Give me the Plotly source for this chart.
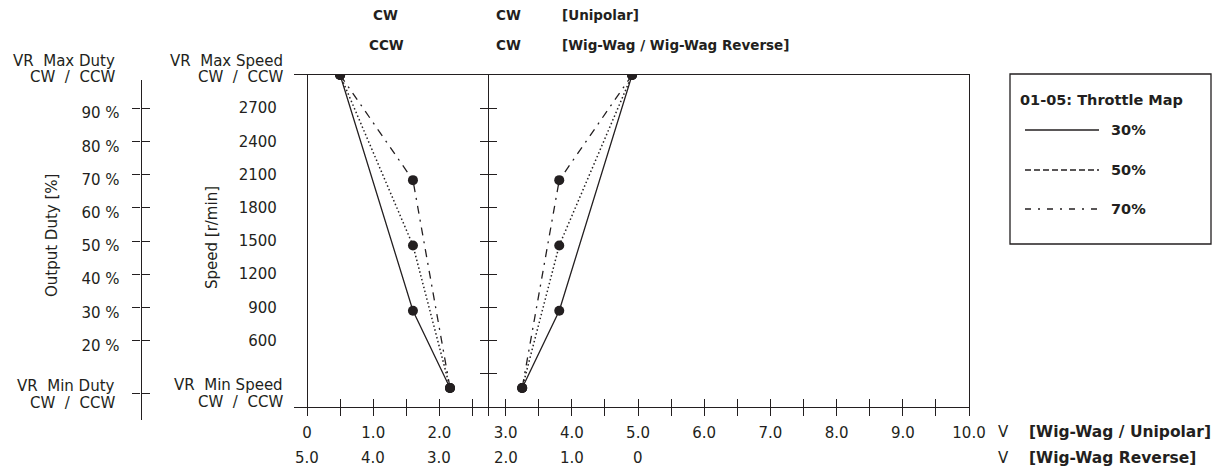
import plotly.graph_objects as go

# ---------------- data ----------------
throttle_labels = ["30%", "50%", "70%"]
volts_left = [0.5, 1.6, 2.16]      # CW (Unipolar) / CCW (Wig-Wag)
volts_right = [4.91, 3.81, 3.25]   # CW (Unipolar) / CW (Wig-Wag)
speed_30 = [3000, 870, 172]
speed_50 = [3000, 1460, 172]
speed_70 = [3000, 2050, 172]

speed_tick_vals = [600, 900, 1200, 1500, 1800, 2100, 2400, 2700]
speed_tick_text = ["600", "900", "1200", "1500", "1800", "2100", "2400", "2700"]
speed_minor_vals = [300, 600, 900, 1200, 1500, 1800, 2100, 2400, 2700]
duty_tick_vals = [20, 30, 40, 50, 60, 70, 80, 90]
duty_tick_text = ["20 %", "30 %", "40 %", "50 %", "60 %", "70 %", "80 %", "90 %"]
duty_min_val = 4
volt_major = [0, 1, 2, 3, 4, 5, 6, 7, 8, 9, 10]
volt_major_text = ["0", "1.0", "2.0", "3.0", "4.0", "5.0", "6.0", "7.0", "8.0", "9.0", "10.0"]
volt_half = [0.5, 1.5, 2.5, 3.5, 4.5, 5.5, 6.5, 7.5, 8.5, 9.5]
volt_rev_pos = [0, 1, 2, 3, 4, 5]
volt_rev_text = ["5.0", "4.0", "3.0", "2.0", "1.0", "0"]
mid_axis_volt = 2.74

# ---------------- geometry helpers ----------------
# the page body has an 8px margin, so the figure is drawn 8px smaller and
# all reference-pixel positions below are converted accordingly
PAGE_OFF = 8
FW, FH = 1224 - PAGE_OFF, 471 - PAGE_OFF
L, R, T, B = 20 - PAGE_OFF, 255, 60 - PAGE_OFF, 41
W, H = FW - L - R, FH - T - B


def fx(px):
    return (px - PAGE_OFF - L) / W


def fy(py):
    return (T + H - (py - PAGE_OFF)) / H


X_RANGE = [-0.2, 10.0]
X_LEFT_PX, X_RIGHT_PX = 293.8, 969.0


def v2px(v):
    return X_LEFT_PX + (v - X_RANGE[0]) * (X_RIGHT_PX - X_LEFT_PX) / (X_RANGE[1] - X_RANGE[0])


Y_TOP_PX, Y_BOT_PX = 75.0, 407.0
px_per_pct = (Y_BOT_PX - Y_TOP_PX) / 100.0
DUTY_TOP_PX, DUTY_BOT_PX = 80.0, 420.0
duty_range = [(Y_BOT_PX - DUTY_BOT_PX) / px_per_pct, (Y_BOT_PX - DUTY_TOP_PX) / px_per_pct]
label_shift = 5 / px_per_pct
duty_label_range = [duty_range[0] + label_shift, duty_range[1] + label_shift]
DUTY_PX = 140.5

INK = "#231f20"
FONT = "DejaVu Sans"
REG = dict(family=FONT, size=15, color=INK)
BOLD_TOP = dict(family=FONT, size=13.5, color=INK, weight="bold")
BOLD_BOT = dict(family=FONT, size=15.5, color=INK, weight="bold")
BOLD_LEG = dict(family=FONT, size=14.5, color=INK, weight="bold")

fig = go.Figure()

styles = {
    "30%": dict(dash="solid", width=1.3),
    "50%": dict(dash="1.5px,2.5px", width=1.5),
    "70%": dict(dash="8px,6px,2px,6px", width=1.3),
}
for lab, sp in zip(throttle_labels, [speed_30, speed_50, speed_70]):
    for xs in (volts_left, volts_right):
        fig.add_trace(go.Scatter(
            x=xs, y=sp, mode="lines+markers",
            line=dict(color=INK, **styles[lab]),
            marker=dict(size=10, color=INK),
            showlegend=False, hoverinfo="skip", name=lab,
            xaxis="x", yaxis="y"))

# dummy traces so every auxiliary axis is drawn
for xa, ya in [("x2", "y"), ("x", "y2"), ("x", "y3"), ("x", "y4"), ("x", "y5"), ("x", "y6"), ("x", "y7")]:
    fig.add_trace(go.Scatter(x=[None], y=[None], xaxis=xa, yaxis=ya, showlegend=False, hoverinfo="skip"))

axis_common = dict(showgrid=False, zeroline=False, linecolor=INK, linewidth=1.3, tickcolor=INK, tickwidth=1.3)

x_tickvals = volt_major + volt_half + [mid_axis_volt]
x_ticktext = volt_major_text + [""] * len(volt_half) + [""]

fig.update_layout(
    width=FW, height=FH,
    margin=dict(l=L, r=R, t=T, b=B, autoexpand=False),
    paper_bgcolor="white", plot_bgcolor="rgba(0,0,0,0)",
    showlegend=False,
    xaxis=dict(domain=[fx(X_LEFT_PX), fx(X_RIGHT_PX)], range=X_RANGE, anchor="y",
               showline=True, mirror=True, ticks="outside", ticklen=8,
               tickvals=x_tickvals, ticktext=x_ticktext, tickfont=REG,
               ticklabelstandoff=4, **axis_common),
    xaxis2=dict(overlaying="x", range=X_RANGE, anchor="y", showline=False,
                ticks="inside", ticklen=8, tickvals=volt_major + volt_half,
                showticklabels=False, **axis_common),
    yaxis=dict(domain=[fy(Y_BOT_PX), fy(Y_TOP_PX)], range=[0, 3000], anchor="free",
               position=fx(v2px(0)), showline=True, ticks="",
               tickvals=speed_tick_vals, ticktext=speed_tick_text, tickfont=REG,
               ticklabelstandoff=27, **axis_common),
    yaxis2=dict(overlaying="y", range=[0, 3000], anchor="free", position=fx(v2px(mid_axis_volt)),
                side="left", showline=True, ticks="outside", ticklen=8,
                tickvals=speed_minor_vals, showticklabels=False, **axis_common),
    yaxis3=dict(overlaying="y", range=[0, 3000], anchor="free", position=fx(v2px(mid_axis_volt)),
                side="right", showline=False, ticks="outside", ticklen=8,
                tickvals=speed_minor_vals, showticklabels=False, **axis_common),
    yaxis4=dict(domain=[fy(DUTY_BOT_PX), fy(DUTY_TOP_PX)], range=duty_range, anchor="free",
                position=fx(DUTY_PX), side="left", showline=True, ticks="outside", ticklen=8,
                tickvals=duty_tick_vals + [duty_min_val], showticklabels=False, **axis_common),
    yaxis5=dict(overlaying="y4", range=duty_range, anchor="free", position=fx(DUTY_PX),
                side="right", showline=False, ticks="outside", ticklen=8,
                tickvals=duty_tick_vals + [duty_min_val], showticklabels=False, **axis_common),
    yaxis6=dict(overlaying="y4", range=duty_label_range, anchor="free", position=fx(DUTY_PX),
                side="left", showline=False, ticks="", tickvals=duty_tick_vals,
                ticktext=duty_tick_text, tickfont=REG, ticklabelstandoff=21, **axis_common),
    yaxis7=dict(overlaying="y", range=[0, 3000], anchor="x", side="right", showline=True,
                ticks="", showticklabels=False, **axis_common),
)

ann = []


def txt(text, px, py, font=REG, xanchor="center", **kw):
    ann.append(dict(text=text, x=fx(px), y=fy(py), xref="paper", yref="paper",
                    xanchor=xanchor, yanchor="middle", showarrow=False, font=font, **kw))


sp2 = "\u00a0\u00a0"
cwccw = "CW" + sp2 + "/" + sp2 + "CCW"
# left side labels
txt("VR\u00a0 Max Duty", 117, 61, xanchor="right")
txt(cwccw, 117, 77, xanchor="right")
txt("VR\u00a0 Min Duty", 117, 386, xanchor="right")
txt(cwccw, 117, 403, xanchor="right")
txt("VR\u00a0 Max Speed", 285, 61, xanchor="right")
txt(cwccw, 285, 77, xanchor="right")
txt("VR\u00a0 Min Speed", 285, 385, xanchor="right")
txt(cwccw, 285, 402, xanchor="right")
txt("Output Duty [%]", 52, 236, textangle=-90)
txt("Speed [r/min]", 212, 238, textangle=-90)

# top labels
txt("CW", 385, 15, font=BOLD_TOP)
txt("CW", 508, 15, font=BOLD_TOP)
txt("[Unipolar]", 560, 15, font=BOLD_TOP, xanchor="left")
txt("CCW", 386, 45, font=BOLD_TOP)
txt("CW", 508, 45, font=BOLD_TOP)
txt("[Wig-Wag / Wig-Wag Reverse]", 560, 45, font=BOLD_TOP, xanchor="left")

# bottom labels
txt("V", 1003, 432)
txt("V", 1003, 458)
txt("[Wig-Wag / Unipolar]", 1027, 432, font=BOLD_BOT, xanchor="left")
txt("[Wig-Wag Reverse]", 1027, 458, font=BOLD_BOT, xanchor="left")
for v, t in zip(volt_rev_pos, volt_rev_text):
    ann.append(dict(text=t, x=v, y=fy(458), xref="x", yref="paper", xanchor="center",
                    yanchor="middle", showarrow=False, font=REG))

# legend (drawn manually)
shapes = [dict(type="rect", xref="paper", yref="paper", x0=fx(1010), x1=fx(1211),
               y0=fy(244), y1=fy(74), line=dict(color=INK, width=1.3))]
txt("01-05: Throttle Map", 1018, 100, font=BOLD_LEG, xanchor="left")
leg_dash = {"30%": "solid", "50%": "6px,3px", "70%": "6px,7px,2px,7px"}
for lab, py in zip(throttle_labels, [130, 170, 209]):
    shapes.append(dict(type="line", xref="paper", yref="paper", x0=fx(1025), x1=fx(1099),
                       y0=fy(py), y1=fy(py), line=dict(color=INK, width=1.3, dash=leg_dash[lab])))
    txt(lab, 1109, py, font=BOLD_LEG, xanchor="left")

fig.update_layout(annotations=ann, shapes=shapes)
fig.write_html("out.html")
